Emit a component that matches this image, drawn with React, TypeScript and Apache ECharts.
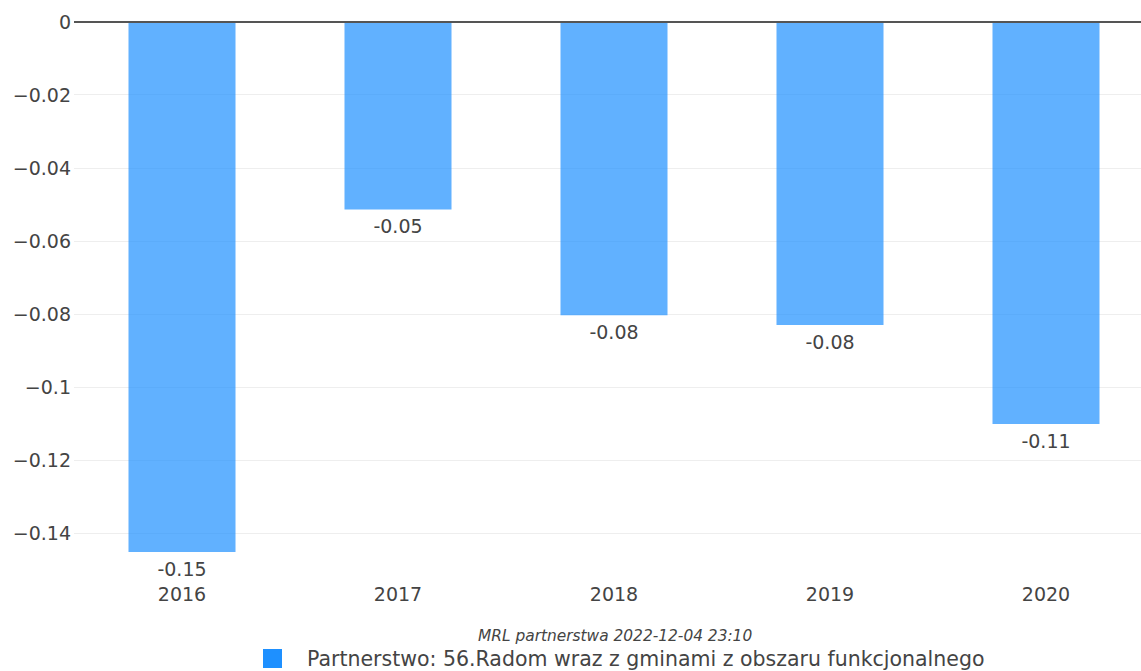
import React, { useEffect, useRef } from "react";
import * as echarts from "echarts";

const categories = ["2016", "2017", "2018", "2019", "2020"];
const values = [-0.1451, -0.0514, -0.0803, -0.083, -0.1101];
const seriesName = "Partnerstwo: 56.Radom wraz z gminami z obszaru funkcjonalnego";
const footnote = "MRL partnerstwa 2022-12-04 23:10";

const FONT = "DejaVu Sans";
const TXT = "#444";

export default function App() {
  const ref = useRef<HTMLDivElement>(null);
  useEffect(() => {
    if (!ref.current) return;
    const chart = echarts.init(ref.current, null, { renderer: "svg" });
    const option = {
      animation: false,
      backgroundColor: "#fff",
      textStyle: { fontFamily: FONT },
      grid: { left: 74, right: 0, top: 21.5, bottom: 64.4, containLabel: false },
      xAxis: {
        type: "category",
        data: categories,
        offset: -30.6,
        axisLine: { show: false },
        axisTick: { show: false },
        splitLine: { show: false },
        axisLabel: { fontSize: 19, color: TXT, fontFamily: FONT, margin: 8 },
      },
      yAxis: {
        type: "value",
        min: -0.16,
        max: 0,
        interval: 0.02,
        axisLine: { show: false },
        axisTick: { show: false },
        splitLine: {
          show: true,
          lineStyle: {
            width: 1,
            color: ["transparent", "#eeeeee", "#eeeeee", "#eeeeee", "#eeeeee", "#eeeeee", "#eeeeee", "#eeeeee", "transparent"],
          },
        },
        axisLabel: {
          fontSize: 19,
          color: TXT,
          fontFamily: FONT,
          margin: 3,
          formatter: (v: number) => {
            if (Math.abs(v + 0.16) < 1e-9) return "";
            if (Math.abs(v) < 1e-9) return "0";
            return "\u2212" + String(parseFloat(Math.abs(v).toFixed(2)));
          },
        },
      },
      legend: {
        show: true,
        top: 648,
        left: 258,
        padding: [0, 5, 0, 5],
        icon: "rect",
        itemWidth: 19,
        itemHeight: 19,
        data: [{ name: seriesName, itemStyle: { color: "#1e90ff", opacity: 1 } }],
        textStyle: { fontSize: 20.5, color: TXT, fontFamily: FONT, padding: [0, 0, 0, 20] },
      },
      graphic: [
        {
          type: "text",
          left: 478,
          top: 628,
          style: {
            text: footnote,
            fontSize: 15.4,
            fontStyle: "italic",
            fill: TXT,
            fontFamily: FONT,
          },
        },
      ],
      series: [
        {
          name: seriesName,
          type: "bar",
          data: values,
          barWidth: 107,
          itemStyle: { color: "rgba(30,144,255,0.7)" },
          label: {
            show: true,
            position: "bottom",
            distance: 7,
            fontSize: 19,
            color: TXT,
            fontFamily: FONT,
            formatter: (p: any) => (p.value as number).toFixed(2),
          },
          markLine: {
            silent: true,
            symbol: "none",
            label: { show: false },
            lineStyle: { color: "#555", width: 2, type: "solid" },
            data: [{ yAxis: 0 }],
          },
        },
      ],
    };
    chart.setOption(option as any);
    return () => chart.dispose();
  }, []);
  return (
    <div style={{ position: "absolute", left: 0, top: 0, width: 1141, height: 671, overflow: "hidden" }}>
      <div ref={ref} style={{ width: 1154, height: 671 }} />
    </div>
  );
}
